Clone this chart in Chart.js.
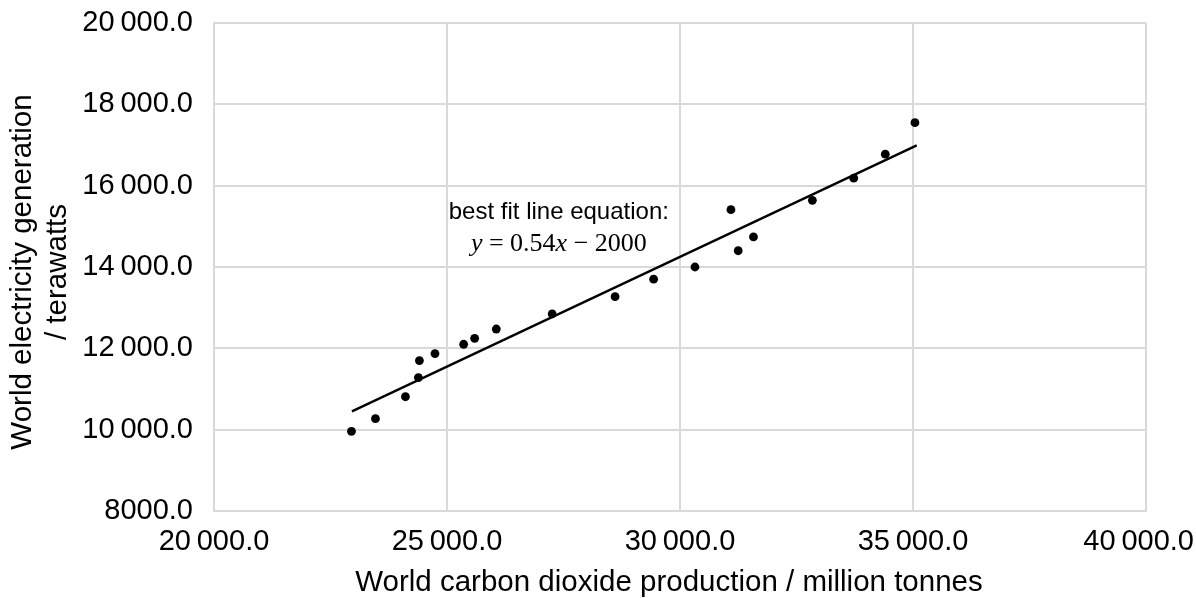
<!DOCTYPE html>
<html>
<head>
<meta charset="utf-8">
<script src="https://cdn.jsdelivr.net/npm/chart.js@4/dist/chart.umd.min.js"></script>
<style>
  html, body { margin: 0; padding: 0; background: #ffffff; }
  #wrap { width: 1196px; height: 598px; }
</style>
</head>
<body>
<div id="wrap"><canvas id="c" width="1196" height="598"></canvas></div>
<script>
// ---- data ----
const co2Production = [22950, 23465, 24108, 24386, 24408, 24742, 25357, 25593, 26058, 27257, 28607, 29434, 30321, 31093, 31249, 31577, 32841, 33728, 34405, 35042];
const electricityGeneration = [9960, 10270, 10810, 11280, 11700, 11870, 12100, 12245, 12475, 12845, 13270, 13700, 14000, 15410, 14400, 14740, 15640, 16185, 16775, 17550];
const fitLineX = [22960, 35080];
const fitLineY = [10450, 16990];
const xTickValues = [20000, 25000, 30000, 35000, 40000];
const yTickValues = [8000, 10000, 12000, 14000, 16000, 18000, 20000];
const xAxisTitle = 'World carbon dioxide production / million tonnes';
const yAxisTitle = ['World electricity generation', '/ terawatts'];
const noteLabel = 'best fit line equation:';
const noteAnchor = { x: 27400, yLabel: 15180, yEquation: 14390 };

function fmt(v) {
  const s = Math.abs(v).toFixed(1);
  const parts = s.split('.');
  let ip = parts[0];
  if (ip.length > 4) ip = ip.replace(/\B(?=(\d{3})+(?!\d))/g, '\u2009');
  return (v < 0 ? '-' : '') + ip + '.' + parts[1];
}

const points = co2Production.map((x, i) => ({ x: x, y: electricityGeneration[i] }));
const fitLine = fitLineX.map((x, i) => ({ x: x, y: fitLineY[i] }));

const GRID = '#d9d9d9';
const SANS = "'Liberation Sans', Arial, sans-serif";
const SERIF = "'Liberation Serif', 'Times New Roman', serif";

// keeps the last x tick label inside the canvas and nudges axis titles like the reference
const tweakPlugin = {
  id: 'tweak',
  beforeDraw(chart) {
    const xs = chart.scales.x, ys = chart.scales.y;
    const items = xs.getLabelItems();
    if (items.length) {
      const last = items[items.length - 1];
      const ctx = chart.ctx;
      ctx.save();
      ctx.font = '29px ' + SANS;
      const w = ctx.measureText(last.label).width;
      ctx.restore();
      const maxCenter = chart.width - 2 - w / 2;
      if (last.options.translation[0] > maxCenter) last.options.translation[0] = maxCenter;
    }
    if (!xs._titleNudged) {
      const orig = Object.getPrototypeOf(xs).drawTitle;
      xs.drawTitle = function () { const c = this.ctx; c.save(); c.translate(-11, 0); orig.call(this); c.restore(); };
      xs._titleNudged = true;
    }
    if (!ys._titleNudged) {
      const orig = Object.getPrototypeOf(ys).drawTitle;
      ys.drawTitle = function () { const c = this.ctx; c.save(); c.translate(0, 5); orig.call(this); c.restore(); };
      ys._titleNudged = true;
    }
  }
};

const notePlugin = {
  id: 'note',
  afterDatasetsDraw(chart) {
    const ctx = chart.ctx;
    const xs = chart.scales.x, ys = chart.scales.y;
    const cx = xs.getPixelForValue(noteAnchor.x);
    ctx.save();
    ctx.fillStyle = '#000';
    ctx.textBaseline = 'alphabetic';
    ctx.font = '24px ' + SANS;
    ctx.textAlign = 'center';
    ctx.fillText(noteLabel, cx, ys.getPixelForValue(noteAnchor.yLabel));
    // equation with italic variables
    const segs = [
      { t: 'y', it: true },
      { t: ' = 0.54', it: false },
      { t: 'x', it: true },
      { t: ' \u2212 2000', it: false }
    ];
    let total = 0;
    segs.forEach(s => {
      ctx.font = (s.it ? 'italic ' : '') + '26px ' + SERIF;
      s.w = ctx.measureText(s.t).width;
      total += s.w;
    });
    let x = cx - total / 2;
    const yEq = ys.getPixelForValue(noteAnchor.yEquation);
    ctx.textAlign = 'left';
    segs.forEach(s => {
      ctx.font = (s.it ? 'italic ' : '') + '26px ' + SERIF;
      ctx.fillText(s.t, x, yEq);
      x += s.w;
    });
    ctx.restore();
  }
};

new Chart(document.getElementById('c'), {
  type: 'scatter',
  data: {
    datasets: [
      {
        label: 'data',
        data: points,
        pointRadius: 4.4,
        pointHoverRadius: 4.4,
        pointBackgroundColor: '#000',
        pointBorderWidth: 0,
        showLine: false,
        order: 2
      },
      {
        label: 'fit',
        data: fitLine,
        showLine: true,
        borderColor: '#000',
        borderWidth: 2.3,
        pointRadius: 0,
        fill: false,
        order: 1
      }
    ]
  },
  options: {
    responsive: false,
    animation: false,
    events: [],
    layout: { padding: { top: 23, right: 50, left: 0, bottom: 0 } },
    plugins: { legend: { display: false }, tooltip: { enabled: false } },
    scales: {
      x: {
        type: 'linear',
        min: 20000, max: 40000,
        afterBuildTicks(scale) { scale.ticks = xTickValues.map(v => ({ value: v })); },
        afterFit(scale) { scale.height = 87; scale.paddingLeft = 0; scale.paddingRight = 0; },
        grid: { color: GRID, lineWidth: 2, drawTicks: false },
        border: { color: GRID, width: 2 },
        ticks: {
          padding: 14,
          color: '#000',
          font: { family: SANS, size: 29, lineHeight: 1.2 },
          maxRotation: 0,
          callback: v => fmt(v)
        },
        title: {
          display: true,
          text: xAxisTitle,
          color: '#000',
          font: { family: SANS, size: 29.5, lineHeight: 1.0 },
          padding: { top: 0, bottom: 0 }
        }
      },
      y: {
        type: 'linear',
        min: 8000, max: 20000,
        afterBuildTicks(scale) { scale.ticks = yTickValues.map(v => ({ value: v })); },
        afterFit(scale) { scale.width = 214; scale.paddingTop = 0; scale.paddingBottom = 0; },
        grid: { color: GRID, lineWidth: 2, drawTicks: false },
        border: { color: GRID, width: 2 },
        ticks: {
          padding: 21,
          color: '#000',
          font: { family: SANS, size: 29, lineHeight: 1.2 },
          callback: v => fmt(v)
        },
        title: {
          display: true,
          text: yAxisTitle,
          color: '#000',
          font: { family: SANS, size: 29.5, lineHeight: '35px' },
          padding: { top: 5.5, bottom: 0 }
        }
      }
    }
  },
  plugins: [tweakPlugin, notePlugin]
});
</script>
</body>
</html>
